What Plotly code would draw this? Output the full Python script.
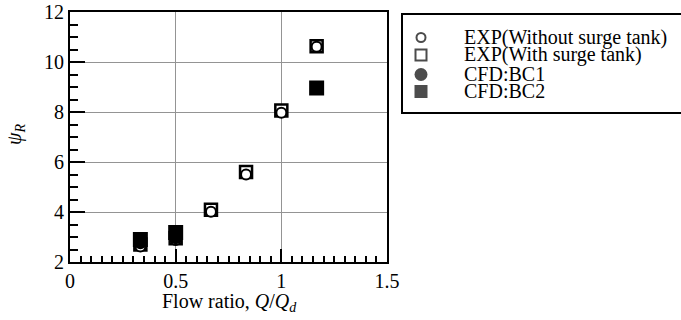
import plotly.graph_objects as go

W, H = 681, 320

# ---- data ----
flow_ratio = [0.333, 0.5, 0.667, 0.833, 1.0, 1.167]
exp_without = [2.62, 2.88, 4.01, 5.50, 7.97, 10.61]
exp_with = [2.70, 2.95, 4.09, 5.60, 8.06, 10.63]
bc1_x = [0.333, 0.5]
bc1_y = [2.75, 2.95]
bc2_x = [0.333, 0.5, 1.167]
bc2_y = [2.90, 3.18, 8.96]

legend_names = ["EXP(Without surge tank)", "EXP(With surge tank)", "CFD:BC1", "CFD:BC2"]
x_ticks = [0, 0.5, 1, 1.5]
x_tick_text = ["0", "0.5", "1", "1.5"]
y_ticks = [2, 4, 6, 8, 10, 12]

FONT = "Liberation Serif"

# plot area in pixels
L, R, T, B = 70, 387, 12, 262

fig = go.Figure()

fig.add_trace(go.Scatter(x=flow_ratio, y=exp_with, mode="markers", name=legend_names[1],
                         marker=dict(symbol="square", size=12, color="white",
                                     line=dict(color="black", width=2.5))))
fig.add_trace(go.Scatter(x=flow_ratio, y=exp_without, mode="markers", name=legend_names[0],
                         marker=dict(symbol="circle", size=10, color="white",
                                     line=dict(color="black", width=2))))
fig.add_trace(go.Scatter(x=bc1_x, y=bc1_y, mode="markers", name=legend_names[2],
                         marker=dict(symbol="circle", size=12, color="black",
                                     line=dict(color="black", width=0))))
fig.add_trace(go.Scatter(x=bc2_x, y=bc2_y, mode="markers", name=legend_names[3],
                         marker=dict(symbol="square", size=15, color="black",
                                     line=dict(color="black", width=0))))

# ---- manual legend on a helper axis in pixel units ----
LG_L, LG_T, LG_B = 402, 14, 113
rows = [37.5, 55, 74.5, 91.5]   # legend row centres (px from top)
sym_x, txt_x = 421, 462
leg_styles = [
    dict(symbol="circle", size=9, color="white", lw=2),
    dict(symbol="square", size=11, color="white", lw=2),
    dict(symbol="circle", size=13, color="black", lw=0),
    dict(symbol="square", size=13, color="black", lw=0),
]
fig.add_trace(go.Scatter(x=[sym_x] * len(rows), y=rows, mode="markers",
                         marker=dict(symbol=[s["symbol"] for s in leg_styles],
                                     size=[s["size"] for s in leg_styles],
                                     color=[s["color"] for s in leg_styles],
                                     line=dict(color="black", width=[s["lw"] for s in leg_styles])),
                         xaxis="x2", yaxis="y2", hoverinfo="skip"))
for name, yy in zip(legend_names, rows):
    fig.add_annotation(x=txt_x, y=yy, xref="x2", yref="y2", text=name, showarrow=False,
                       xanchor="left", yanchor="middle",
                       font=dict(family=FONT, size=20, color="black"))

fig.add_shape(type="rect", xref="paper", yref="paper",
              x0=LG_L / W, x1=1.02, y0=1 - LG_B / H, y1=1 - LG_T / H,
              line=dict(color="black", width=2), fillcolor="rgba(0,0,0,0)")

axis_common = dict(showline=True, linecolor="black", linewidth=2, mirror=True,
                   ticks="inside", tickcolor="black", zeroline=False, automargin=False,
                   showgrid=True, gridcolor="#949494", gridwidth=1,
                   tickfont=dict(family=FONT, size=20, color="black"))

fig.update_layout(
    width=W, height=H,
    margin=dict(l=0, r=0, t=0, b=0, pad=0, autoexpand=False),
    paper_bgcolor="white", plot_bgcolor="white",
    font=dict(family=FONT, size=20, color="black"),
    xaxis=dict(domain=[L / W, R / W], range=[0, 1.5], tickvals=x_ticks, ticktext=x_tick_text,
               ticklen=13, tickwidth=2,
               minor=dict(dtick=0.05, ticklen=6, tickwidth=1.5, tickcolor="black", ticks="inside",
                          showgrid=False),
               **axis_common),
    yaxis=dict(domain=[1 - B / H, 1 - T / H], range=[2, 12], tickvals=y_ticks,
               ticklen=15, tickwidth=2,
               minor=dict(dtick=0.5, ticklen=8, tickwidth=1.5, tickcolor="black", ticks="inside",
                          showgrid=False),
               **axis_common),
    xaxis2=dict(domain=[LG_L / W, 1], range=[LG_L, W], visible=False, anchor="y2", automargin=False),
    yaxis2=dict(domain=[1 - LG_B / H, 1 - LG_T / H], range=[LG_B, LG_T], visible=False,
                anchor="x2", automargin=False),
    showlegend=False,
)

fig.add_annotation(x=229 / W, y=1 - 302 / H, xref="paper", yref="paper",
                   text="Flow ratio, <i>Q</i>/<i>Q</i><sub><i>d</i></sub>", showarrow=False,
                   xanchor="center", yanchor="middle",
                   font=dict(family=FONT, size=20, color="black"))
fig.add_annotation(x=15 / W, y=1 - 135 / H, xref="paper", yref="paper",
                   text="<i>ψ</i><sub><i>R</i></sub>", showarrow=False, textangle=-90,
                   xanchor="center", yanchor="middle",
                   font=dict(family=FONT, size=20, color="black"))

fig.write_html("out.html")
